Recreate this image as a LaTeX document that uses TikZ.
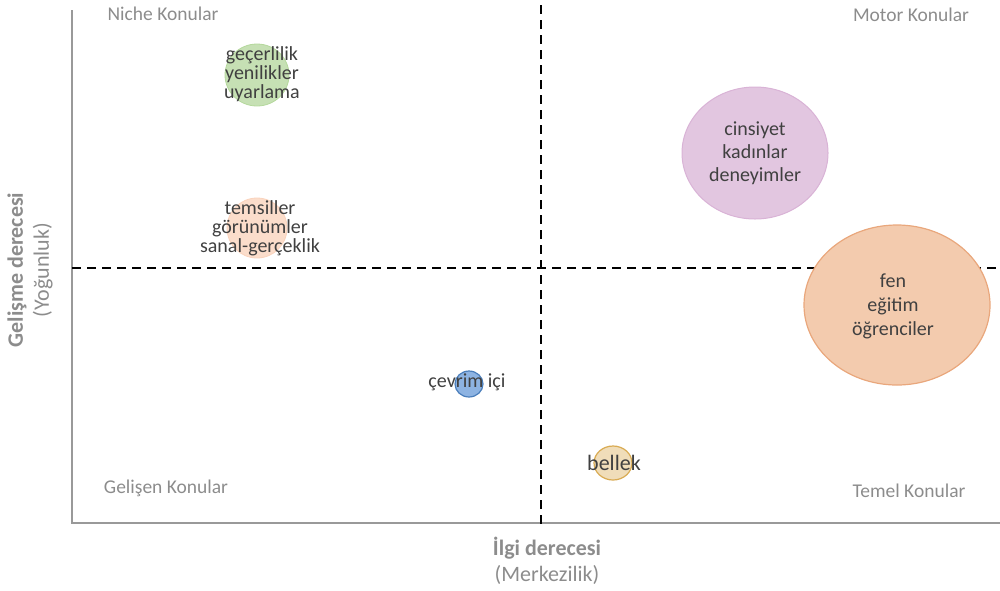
\documentclass[tikz,border=0pt]{standalone}
\usepackage{fontspec}
\setmainfont{Carlito}
\definecolor{kgray}{HTML}{8C8C8C}
\definecolor{ktext}{HTML}{404040}
\definecolor{greenfill}{HTML}{C6E0B4}
\definecolor{greenline}{HTML}{B4D89C}
\definecolor{peachfill}{HTML}{FBDDCB}
\definecolor{peachline}{HTML}{FAD3BC}
\definecolor{lilacfill}{HTML}{E2C6E0}
\definecolor{lilacline}{HTML}{D9B3D6}
\definecolor{orangefill}{HTML}{F3CBAE}
\definecolor{orangeline}{HTML}{E9A77C}
\definecolor{bluefill}{HTML}{8DB3E2}
\definecolor{blueline}{HTML}{4A7EBB}
\definecolor{sandfill}{HTML}{F0DDB9}
\definecolor{sandline}{HTML}{D9AB53}
\begin{document}
\begin{tikzpicture}[x=1pt, y=-1pt,
	quad/.style={text=kgray, font=\fontsize{19.5}{22}\selectfont},
	axis/.style={text=kgray, font=\fontsize{22}{26}\selectfont, align=center},
	topic/.style={text=ktext, align=center, font=\fontsize{20}{19}\selectfont}]
			\useasboundingbox (0,0) rectangle (1000,590);
			\draw[gray!80, line width=1.2pt] (72,10) -- (72,523) -- (1000,523);
			\draw[dashed, line width=1.6pt, dash pattern=on 9pt off 6pt] (541,5) -- (541,525);
			\draw[dashed, line width=1.6pt, dash pattern=on 9pt off 6pt] (72,268) -- (1000,268);
			\filldraw[fill=greenfill, draw=greenline, line width=0.8pt] (257,75) ellipse (32 and 31);
			\filldraw[fill=peachfill, draw=peachline, line width=0.8pt] (257,228) circle (30);
			\filldraw[fill=lilacfill, draw=lilacline, line width=1pt] (755,153) ellipse (73 and 66);
			\filldraw[fill=orangefill, draw=orangeline, line width=1.2pt] (897,305) ellipse (93 and 80);
			\filldraw[fill=bluefill, draw=blueline, line width=1.2pt] (469,384) ellipse (14 and 13);
			\filldraw[fill=sandfill, draw=sandline, line width=1.2pt] (613,463) ellipse (19 and 17);
			\node[topic] (niche) at (262,74) {geçerlilik\\yenilikler\\uyarlama};
			\node[topic] (temsil) at (260,228) {temsiller\\görünümler\\sanal-gerçeklik};
			\node[topic, font=\fontsize{20}{23}\selectfont] (motor) at (755,153) {cinsiyet\\kadınlar\\deneyimler};
			\node[topic, font=\fontsize{20}{24}\selectfont] (temel) at (893,306) {fen\\eğitim\\öğrenciler};
			\node[topic] (cevrim) at (467,382) {çevrim içi};
			\node[topic, font=\fontsize{22}{24}\selectfont] (bellek) at (614,463) {bellek};
			\node[quad] (q1) at (163,14) {Niche Konular};
			\node[quad] (q2) at (911,15) {Motor Konular};
			\node[quad] (q3) at (166,488) {Gelişen Konular};
			\node[quad] (q4) at (909,491) {Temel Konular};
			\node[axis] (xlab) at (547,561) {\textbf{İlgi derecesi}\\(Merkezilik)};
			\node[axis, rotate=90] (ylab) at (30,270) {\textbf{Gelişme derecesi}\\(Yoğunluk)};
	\end{tikzpicture}
\end{document}
